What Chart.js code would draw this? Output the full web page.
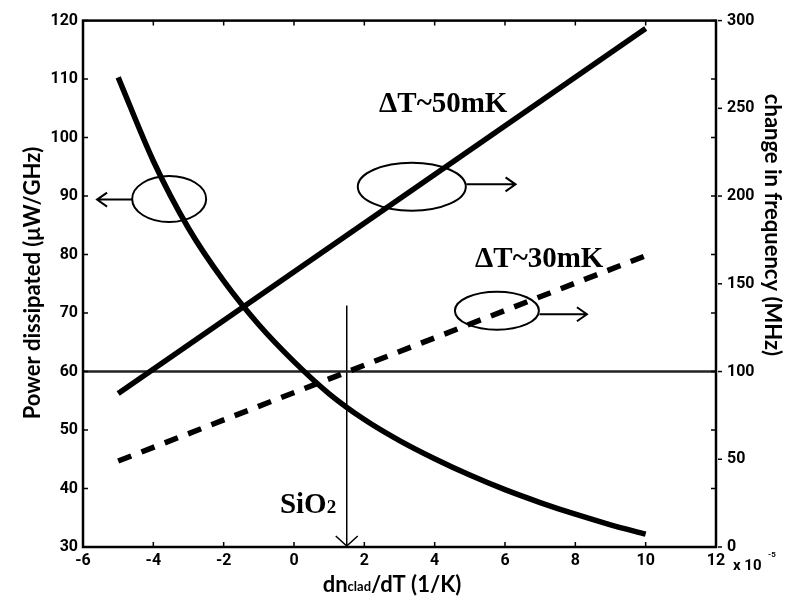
<!DOCTYPE html>
<html>
<head>
<meta charset="utf-8">
<script src="https://cdn.jsdelivr.net/npm/chart.js@4/dist/chart.umd.min.js"></script>
<style>
  html, body { margin: 0; padding: 0; background: #fff; }
  #wrap { width: 796px; height: 603px; }
</style>
</head>
<body>
<div id="wrap"><canvas id="c" width="796" height="603"></canvas></div>
<script>
// Thermo-optic coefficient of the cladding, dn_clad/dT (units of 1e-5 /K)
const dndT = [-5, -4, -3, -2, -1, 0, 1, 2, 3, 4, 5, 6, 7, 8, 9, 10];
// Power dissipated per GHz of tuning (µW/GHz), left axis
const powerPerGHz = [110.3, 96, 84.5, 75.5, 68, 61.7, 56.2, 51.8, 48.2, 45.1, 42.3, 39.8, 37.6, 35.6, 33.8, 32.2];

// Change in resonance frequency (MHz), right axis, for two temperature swings
const lineEnds = [-5, 10];
const shift50mK = [87.5, 295.5];
const shift30mK = [49, 166];

// Reference level (60 µW/GHz = 100 MHz) and the SiO2 cladding coefficient
const refLevelLeft = 60;
const sio2Coef = 1.5;
const sio2MarkerTop = 71.3;

// Axis ranges and tick steps
const xRange = [-6, 12], xStep = 2;
const leftRange = [30, 120], leftStep = 10;
const rightRange = [0, 300], rightStep = 50;

const toPts = (xs, ys) => xs.map((x, i) => ({ x: x, y: ys[i] }));

const tickFont = { family: 'Roboto, "Liberation Sans", sans-serif', size: 16, weight: 'bold' };
const serif = '"Liberation Serif", "DejaVu Serif", serif';
const sans = 'Lato, "Open Sans", "Liberation Sans", sans-serif';

// Decorations: ellipses with pointer arrows, labels, frame, inner ticks
const decorations = {
  id: 'decorations',
  afterDatasetsDraw(chart) {
    const ctx = chart.ctx;
    const xs = chart.scales.x, yl = chart.scales.y, yr = chart.scales.y2;
    const a = chart.chartArea;
    const X = v => xs.getPixelForValue(v);
    const YL = v => yl.getPixelForValue(v);
    ctx.save();
    ctx.strokeStyle = '#000';
    ctx.fillStyle = '#000';

    // frame
    ctx.lineWidth = 2.5;
    ctx.strokeRect(a.left, a.top, a.right - a.left, a.bottom - a.top);

    // inner ticks
    ctx.lineWidth = 1.5;
    const tl = 5;
    for (let v = xRange[0]; v <= xRange[1]; v += xStep) {
      const px = X(v);
      ctx.beginPath();
      ctx.moveTo(px, a.bottom); ctx.lineTo(px, a.bottom - tl);
      ctx.moveTo(px, a.top); ctx.lineTo(px, a.top + tl);
      ctx.stroke();
    }
    for (let v = leftRange[0]; v <= leftRange[1]; v += leftStep) {
      const py = YL(v);
      ctx.beginPath();
      ctx.moveTo(a.left, py); ctx.lineTo(a.left + tl, py);
      ctx.moveTo(a.right, py); ctx.lineTo(a.right - tl, py);
      ctx.stroke();
    }
    // outer ticks of the right axis
    for (let v = rightRange[0]; v <= rightRange[1]; v += rightStep) {
      const py = yr.getPixelForValue(v);
      ctx.beginPath();
      ctx.moveTo(a.right + 2, py); ctx.lineTo(a.right + 6, py);
      ctx.stroke();
    }

    // SiO2 marker arrowhead at the axis
    const sx = X(sio2Coef);
    ctx.lineWidth = 1.5;
    ctx.beginPath();
    ctx.moveTo(sx - 11, a.bottom - 11); ctx.lineTo(sx, a.bottom - 1); ctx.lineTo(sx + 11, a.bottom - 11);
    ctx.stroke();

    // ellipses and arrows
    const groups = [
      { cx: -3.55, cy: 89.5, rx: 37, ry: 23, from: -4.6, to: -5.6, ay: 89.4 },
      { cx: 3.35, cy: 91.6, rx: 54, ry: 24, from: 4.9, to: 6.3, ay: 92.0 },
      { cx: 5.77, cy: 70.4, rx: 42, ry: 19, from: 6.98, to: 8.33, ay: 69.8 }
    ];
    ctx.lineWidth = 2;
    groups.forEach(g => {
      ctx.beginPath();
      ctx.ellipse(X(g.cx), YL(g.cy), g.rx, g.ry, 0, 0, Math.PI * 2);
      ctx.stroke();
      const x0 = X(g.from), x1 = X(g.to), y = YL(g.ay);
      const dir = x1 > x0 ? 1 : -1;
      ctx.beginPath();
      ctx.moveTo(x0, y); ctx.lineTo(x1, y);
      ctx.moveTo(x1 - dir * 10, y - 7); ctx.lineTo(x1, y); ctx.lineTo(x1 - dir * 10, y + 7);
      ctx.stroke();
    });

    // curve labels
    ctx.textBaseline = 'alphabetic';
    ctx.textAlign = 'left';
    ctx.font = 'bold 29px ' + serif;
    ctx.fillText('\u0394T~50mK', X(2.42), YL(104.3));
    ctx.fillText('\u0394T~30mK', X(5.15), YL(77.9));
    ctx.fillText('SiO', X(-0.4), YL(35.8));
    const w = ctx.measureText('SiO').width;
    ctx.font = 'bold 19px ' + serif;
    ctx.fillText('2', X(-0.4) + w, YL(35.8));

    // axis titles
    ctx.font = 'bold 22px ' + sans;
    ctx.textAlign = 'center';
    ctx.textBaseline = 'middle';
    ctx.save();
    ctx.translate(33, 283);
    ctx.rotate(-Math.PI / 2);
    ctx.fillText('Power dissipated (\u03bcW/GHz)', 0, 0);
    ctx.restore();
    ctx.save();
    ctx.translate(772, 225);
    ctx.rotate(Math.PI / 2);
    ctx.fillText('change in frequency (MHz)', 0, 0);
    ctx.restore();

    // x title with subscript
    ctx.textAlign = 'left';
    ctx.textBaseline = 'alphabetic';
    const parts = [['dn', 'bold 22px '], ['clad', 'bold 13px '], ['/dT (1/K)', 'bold 22px ']];
    let total = 0;
    parts.forEach(p => { ctx.font = p[1] + sans; total += ctx.measureText(p[0]).width; });
    let tx = 392 - total / 2;
    const by = 592;
    parts.forEach(p => {
      ctx.font = p[1] + sans;
      ctx.fillText(p[0], tx, p[0] === 'clad' ? by - 1 : by);
      tx += ctx.measureText(p[0]).width;
    });

    // exponent of the x axis
    ctx.font = 'bold 15px ' + tickFont.family;
    ctx.fillText('x 10', 733, 570);
    ctx.font = 'bold 8px ' + tickFont.family;
    ctx.fillText('-5', 768, 557);

    ctx.restore();
  }
};

new Chart(document.getElementById('c'), {
  type: 'line',
  data: {
    datasets: [
      {
        label: 'Power dissipated',
        data: toPts(dndT, powerPerGHz),
        yAxisID: 'y',
        borderColor: '#000', borderWidth: 5.5,
        pointRadius: 0, cubicInterpolationMode: 'monotone', fill: false
      },
      {
        label: '\u0394T~50mK',
        data: toPts(lineEnds, shift50mK),
        yAxisID: 'y2',
        borderColor: '#000', borderWidth: 5.5, pointRadius: 0, fill: false
      },
      {
        label: '\u0394T~30mK',
        data: toPts(lineEnds, shift30mK),
        yAxisID: 'y2',
        borderColor: '#000', borderWidth: 5.5, borderDash: [14, 11], pointRadius: 0, fill: false
      },
      {
        label: 'reference',
        data: toPts(xRange, [refLevelLeft, refLevelLeft]),
        yAxisID: 'y',
        borderColor: '#222', borderWidth: 2.5, pointRadius: 0, fill: false
      },
      {
        label: 'SiO2',
        data: toPts([sio2Coef, sio2Coef], [sio2MarkerTop, leftRange[0]]),
        yAxisID: 'y',
        borderColor: '#000', borderWidth: 1.5, pointRadius: 0, fill: false
      }
    ]
  },
  options: {
    responsive: false,
    animation: false,
    devicePixelRatio: 1,
    layout: { padding: { top: 20, left: 0, right: 0, bottom: 0 } },
    plugins: { legend: { display: false }, tooltip: { enabled: false } },
    scales: {
      x: {
        type: 'linear', min: xRange[0], max: xRange[1],
        ticks: { stepSize: xStep, color: '#000', font: tickFont, padding: 4, maxRotation: 0, autoSkip: false },
        grid: { display: false, drawTicks: false }, border: { display: false },
        afterFit(s) { s.height = 56; }
      },
      y: {
        position: 'left', min: leftRange[0], max: leftRange[1],
        ticks: { stepSize: leftStep, color: '#000', font: tickFont, padding: 5 },
        grid: { display: false, drawTicks: false }, border: { display: false },
        afterFit(s) { s.width = 83; }
      },
      y2: {
        position: 'right', min: rightRange[0], max: rightRange[1],
        ticks: { stepSize: rightStep, color: '#000', font: tickFont, padding: 11 },
        grid: { display: false, drawTicks: false }, border: { display: false },
        afterFit(s) { s.width = 80; }
      }
    }
  },
  plugins: [decorations]
});
</script>
</body>
</html>
